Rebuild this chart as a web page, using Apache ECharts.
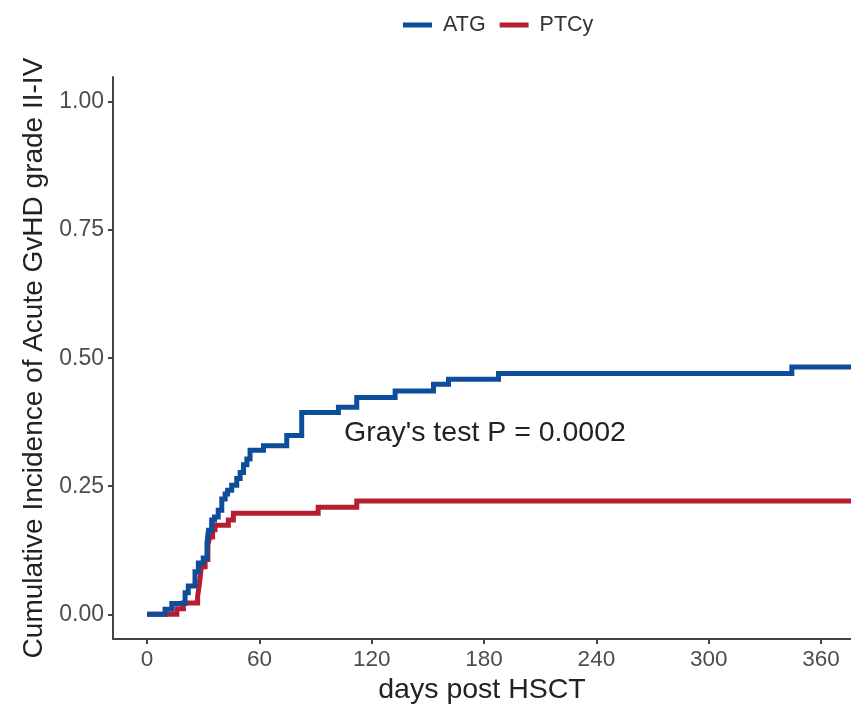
<!DOCTYPE html>
<html>
<head>
<meta charset="utf-8">
<script src="https://cdn.jsdelivr.net/npm/echarts@6/dist/echarts.min.js"></script>
<style>
html,body{margin:0;padding:0;background:#fff;}
#chart{width:851px;height:710px;}
</style>
</head>
<body>
<div id="chart"></div>
<script>
// ---- data ----
const atgDays   = [0, 9.6, 13.2, 20.3, 22, 25.6, 27.4, 30, 32, 32.8, 34.5, 36, 38, 39.9, 41.7, 43, 45.2, 47.9, 49.7, 51.5, 53.3, 55, 62.2, 74.6, 82.6, 102.2, 112, 132.5, 153, 161, 187.7, 344.4, 376];
const atgValues = [0, 0.010, 0.021, 0.042, 0.055, 0.083, 0.100, 0.110, 0.140, 0.164, 0.184, 0.190, 0.203, 0.225, 0.235, 0.242, 0.252, 0.265, 0.277, 0.292, 0.303, 0.320, 0.329, 0.349, 0.394, 0.404, 0.423, 0.436, 0.449, 0.459, 0.470, 0.483, 0.483];
const ptcyDays   = [0, 15.9, 19.4, 27, 28, 29, 31, 32.5, 33.5, 35, 36.3, 43.4, 46.1, 91.4, 112, 376];
const ptcyValues = [0, 0.011, 0.022, 0.035, 0.060, 0.093, 0.107, 0.135, 0.151, 0.165, 0.174, 0.184, 0.197, 0.209, 0.221, 0.221];
const seriesNames = ['ATG', 'PTCy'];
const xTicks = [0, 60, 120, 180, 240, 300, 360];
const yTicks = [0, 0.25, 0.5, 0.75, 1.0];
const xTitle = 'days post HSCT';
const yTitle = 'Cumulative Incidence of Acute GvHD grade II-IV';
const annotation = "Gray's test P = 0.0002";

const colors = ['#0E4D9A', '#B51E2E'];
const font = 'Liberation Sans, Arial, Helvetica, sans-serif';

const chart = echarts.init(document.getElementById('chart'), null, {renderer: 'canvas'});

function pairs(xs, ys) { return xs.map((x, i) => [x, ys[i]]); }

chart.setOption({
  animation: false,
  backgroundColor: '#ffffff',
  textStyle: {fontFamily: font},
  legend: {
    top: 9,
    left: 398,
    itemWidth: 29,
    itemHeight: 5,
    itemGap: 14,
    icon: 'rect',
    textStyle: {fontSize: 21.5, color: '#333', fontFamily: font, padding: [0, 0, 0, 6]},
    data: seriesNames
  },
  grid: {left: 113, right: 0, top: 77, bottom: 67, containLabel: false},
  xAxis: {
    type: 'value',
    min: -18.2,
    max: 376,
    name: xTitle,
    nameLocation: 'middle',
    nameGap: 32,
    nameTextStyle: {fontSize: 28.5, color: '#222', fontFamily: font},
    axisLine: {show: true, onZero: false, lineStyle: {color: '#444', width: 2}},
    axisTick: {show: true, customValues: xTicks, length: 5, lineStyle: {color: '#444', width: 2}},
    axisLabel: {customValues: xTicks, fontSize: 22.5, color: '#4D4D4D', margin: 9, fontFamily: font},
    splitLine: {show: false}
  },
  yAxis: {
    type: 'value',
    min: -0.0485,
    max: 1.049,
    name: yTitle,
    nameLocation: 'middle',
    nameRotate: 90,
    nameGap: 53,
    nameTextStyle: {fontSize: 28, color: '#222', fontFamily: font},
    axisLine: {show: true, onZero: false, lineStyle: {color: '#444', width: 2}},
    axisTick: {show: true, customValues: yTicks, length: 5, lineStyle: {color: '#444', width: 2}},
    axisLabel: {customValues: yTicks, fontSize: 23, color: '#4D4D4D', margin: 9, fontFamily: font,
      formatter: v => v.toFixed(2)},
    splitLine: {show: false}
  },
  series: [
    {
      name: seriesNames[0], type: 'line', step: 'end', showSymbol: false, symbol: 'none',
      data: pairs(atgDays, atgValues), color: colors[0],
      lineStyle: {width: 5, color: colors[0], cap: 'butt', join: 'miter'}, z: 3
    },
    {
      name: seriesNames[1], type: 'line', step: 'end', showSymbol: false, symbol: 'none',
      data: pairs(ptcyDays, ptcyValues), color: colors[1],
      lineStyle: {width: 5, color: colors[1], cap: 'butt', join: 'miter'}, z: 2
    }
  ],
  graphic: [{
    type: 'text', left: 344, top: 419, z: 10,
    style: {text: annotation, fontSize: 28.5, fill: '#222', fontFamily: font}
  }]
});
</script>
</body>
</html>
